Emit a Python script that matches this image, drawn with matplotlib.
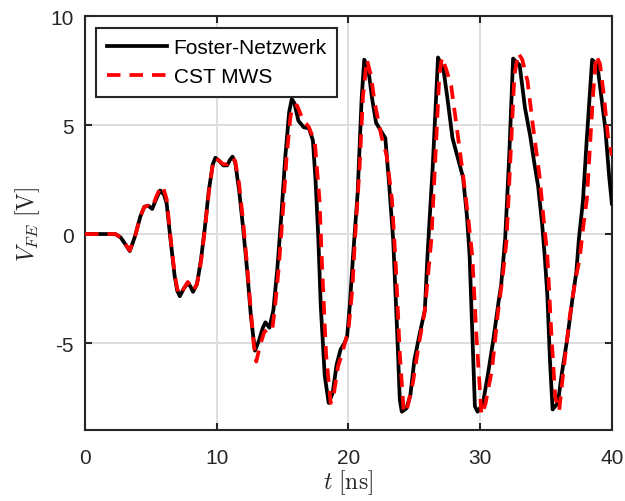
import numpy as np
import matplotlib.pyplot as plt

# Foster-Netzwerk (black solid)
t_foster = [0, 1, 2, 2.3, 2.7, 3.1, 3.4, 3.8, 4.2, 4.5, 4.8, 5.1, 5.4, 5.7, 6.0, 6.2,
            6.5, 6.8, 7.0, 7.2, 7.5, 7.8, 8.0, 8.2, 8.5, 8.8, 9.1, 9.4, 9.7, 9.9,
            10.2, 10.5, 10.8, 11.0, 11.2, 11.4, 11.7, 12.0, 12.3, 12.6, 12.9, 13.2,
            13.5, 13.7, 14.0, 14.3, 14.6, 14.9, 15.2, 15.5, 15.7, 15.9, 16.2, 16.6,
            17.0, 17.3, 17.5, 17.7, 17.9, 18.2, 18.5, 18.8, 19.1, 19.4, 19.7, 19.9,
            20.1, 20.35, 20.7, 21.0, 21.2, 21.5, 21.8, 22.1, 22.5, 22.8, 23.1, 23.4,
            23.7, 23.9, 24.05, 24.4, 24.7, 25.0, 25.4, 25.8, 26.0, 26.4, 26.8, 27.2,
            27.5, 27.9, 28.3, 28.7, 29.0, 29.2, 29.4, 29.6, 29.8, 30.2, 30.6, 31.0,
            31.4, 31.6, 31.9, 32.2, 32.5, 33.0, 33.4, 33.8, 34.1, 34.4, 34.7, 34.9,
            35.1, 35.3, 35.5, 35.9, 36.2, 36.6, 37.0, 37.3, 37.5, 37.8, 38.1, 38.5,
            38.9, 39.2, 39.5, 39.8, 40.0]
v_foster = [0, 0, 0, 0, -0.15, -0.5, -0.78, -0.1, 0.8, 1.25, 1.3, 1.15, 1.6, 2.0, 1.8, 1.4,
            -0.3, -1.9, -2.6, -2.85, -2.5, -2.25, -2.4, -2.65, -2.3, -1.2, 0.3, 2.0, 3.2, 3.5,
            3.35, 3.15, 3.15, 3.4, 3.55, 3.3, 2.0, 0.3, -1.6, -3.8, -5.35, -4.9,
            -4.3, -4.05, -4.3, -3.5, -1.6, 0.8, 3.5, 5.6, 6.2, 6.0, 5.2, 4.9,
            4.85, 4.3, 2.5, 0.0, -3.3, -6.5, -7.75, -7.3, -6.0, -5.3, -5.0, -4.7,
            -3.3, -1.0, 1.9, 6.2, 8.0, 7.6, 6.2, 5.1, 4.7, 4.4, 2.2, -0.3,
            -4.5, -7.6, -8.15, -8.0, -7.4, -5.8, -4.6, -3.5, -1.0, 3.1, 8.1, 7.6,
            6.3, 4.4, 3.5, 2.6, 0.8, -1.0, -4.5, -7.9, -8.15, -7.8, -6.4, -4.85,
            -3.1, -2.3, -0.2, 3.5, 8.05, 7.75, 5.8, 4.5, 3.3, 2.2, 0.5, -1.0,
            -2.8, -5.8, -8.05, -7.75, -6.4, -4.85, -3.0, -1.75, -0.2, 1.5, 4.4, 8.0,
            7.75, 6.3, 4.85, 2.6, 1.4]

# CST MWS (red dashed)
t_cst = [0, 1, 2, 2.3, 2.7, 3.1, 3.4, 3.8, 4.2, 4.5, 4.8, 5.1, 5.4, 5.7, 5.9, 6.2,
         6.5, 6.8, 7.0, 7.2, 7.5, 7.8, 8.0, 8.2, 8.5, 8.8, 9.1, 9.4, 9.7, 9.9,
         10.2, 10.5, 10.8, 11.0, 11.2, 11.4, 11.7, 12.0, 12.3, 12.6, 12.8, 13.0,
         13.3, 13.6, 13.8, 14.2, 14.4, 14.7, 15.0, 15.3, 15.6, 15.8, 16.1, 16.5,
         17.0, 17.45, 17.8, 18.0, 18.3, 18.65, 18.9, 19.2, 19.6, 20.0, 20.3, 20.5,
         20.85, 21.1, 21.4, 21.7, 22.0, 22.5, 22.9, 23.3, 23.6, 23.9, 24.2, 24.5,
         24.9, 25.3, 25.8, 26.3, 26.6, 26.9, 27.1, 27.4, 27.8, 28.2, 28.7, 29.1,
         29.4, 29.7, 30.1, 30.4, 30.9, 31.35, 31.7, 32.0, 32.3, 32.6, 32.9, 33.2,
         33.6, 34.0, 34.5, 34.8, 35.1, 35.4, 35.7, 36.0, 36.3, 36.8, 37.2, 37.55,
         37.8, 38.1, 38.55, 38.8, 39.1, 39.4, 39.7, 40.0]
v_cst = [0, 0, 0, 0, -0.15, -0.5, -0.75, -0.1, 0.8, 1.25, 1.3, 1.2, 1.7, 2.1, 2.2, 1.6,
         -0.2, -1.8, -2.5, -2.8, -2.5, -2.2, -2.35, -2.6, -2.3, -1.3, 0.2, 1.9, 3.2, 3.5,
         3.35, 3.2, 3.2, 3.4, 3.5, 3.35, 2.3, 0.6, -1.4, -3.6, -5.0, -5.85,
         -5.1, -4.5, -4.4, -4.45, -3.5, -1.6, 0.8, 3.5, 5.4, 5.9, 5.9, 5.3,
         4.9, 4.2, 1.6, -1.5, -5.5, -7.75, -7.3, -6.1, -5.3, -4.4, -2.5, -0.2,
         3.1, 6.3, 8.0, 7.3, 6.0, 4.5, 3.6, 1.6, -1.5, -5.5, -8.2, -7.9,
         -6.8, -5.2, -3.5, -0.2, 3.5, 7.3, 8.1, 7.6, 6.8, 5.0, 2.7, 0.7,
         -1.0, -4.5, -8.3, -7.8, -6.2, -3.6, -2.0, -0.3, 3.5, 7.3, 8.3, 8.0,
         7.0, 5.0, 2.7, 0.8, -1.0, -4.5, -7.5, -8.1, -6.4, -3.8, -2.2, -1.15,
         0.2, 1.6, 6.2, 8.2, 7.8, 6.3, 4.5, 3.6]

x_ticks = [0, 10, 20, 30, 40]
y_ticks = [-5, 0, 5, 10]

plt.rcParams["font.family"] = ["Liberation Sans", "DejaVu Sans"]
plt.rcParams["mathtext.fontset"] = "cm"
plt.rcParams["axes.unicode_minus"] = False

dark = "#262626"
fig = plt.figure(figsize=(6.25, 5.02), dpi=100)
ax = fig.add_axes([0.136, 0.141, 0.843, 0.825])

ax.plot(t_foster, v_foster, color="black", lw=2.7, label="Foster-Netzwerk",
        solid_joinstyle="round", zorder=3)
ax.plot(t_cst, v_cst, color="red", lw=2.7, ls=(0, (3.6, 2.4)), label="CST MWS",
        zorder=4)

ax.set_xlim(0, 40)
ax.set_ylim(-9, 10)
ax.set_xticks(x_ticks)
ax.set_yticks(y_ticks)
ax.grid(True, color="#dedede", lw=1.4)
ax.set_axisbelow(True)

for s in ax.spines.values():
    s.set_color(dark)
    s.set_linewidth(1.5)
ax.tick_params(direction="in", length=5, width=1.5, colors=dark, labelsize=15,
               top=True, right=True, pad=8)
ax.tick_params(axis="x", pad=13)

ax.set_xlabel(r"$t\ [\mathrm{ns}]$", fontsize=17, color=dark, labelpad=0)
ax.set_ylabel(r"$V_{FE}\ [\mathrm{V}]$", fontsize=17, color=dark, labelpad=6)

leg = ax.legend(loc="upper left", fontsize=15, fancybox=False, framealpha=1,
                edgecolor=dark, handlelength=2.9, handletextpad=0.3,
                borderaxespad=0.55, borderpad=0.5, labelspacing=0.5)
leg.get_frame().set_linewidth(1.5)

plt.savefig("out.png", dpi=100)
